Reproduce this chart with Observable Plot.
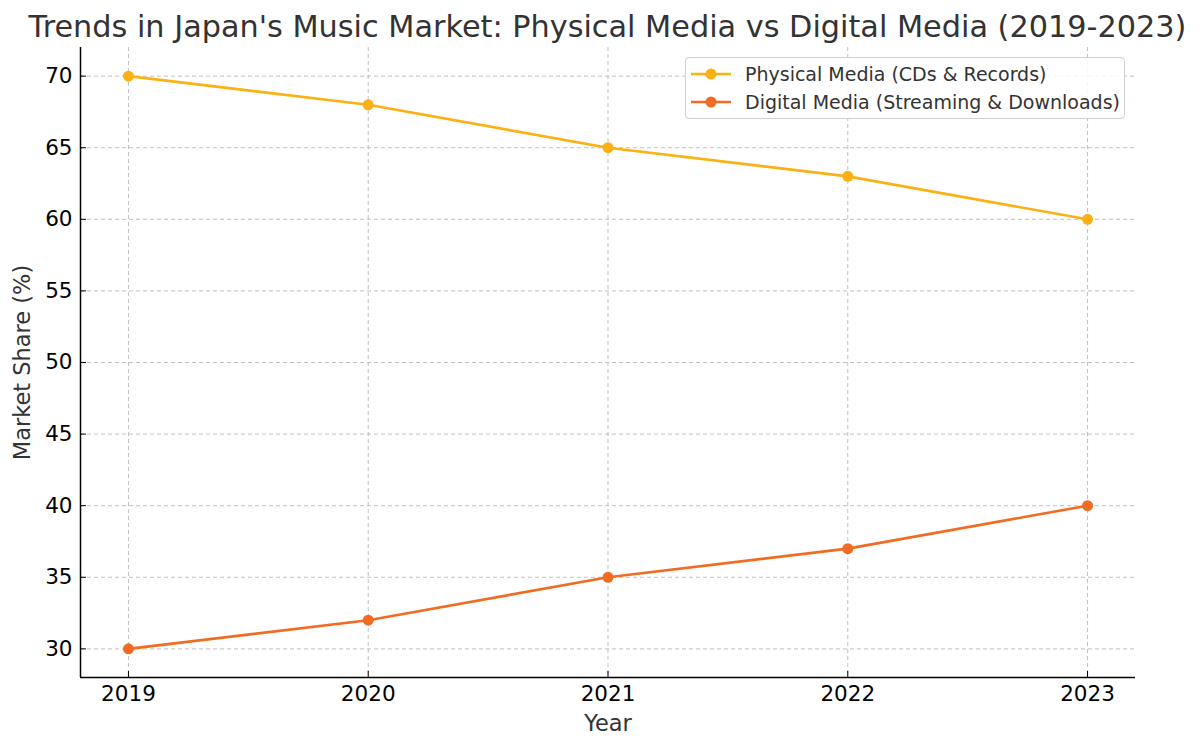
<!DOCTYPE html>
<html>
<head>
<meta charset="utf-8">
<script src="https://cdn.jsdelivr.net/npm/d3@7"></script>
<script src="https://cdn.jsdelivr.net/npm/@observablehq/plot@0.6"></script>
<style>
  body { margin: 0; background: #fff; font-family: "DejaVu Sans", sans-serif; overflow: hidden; }
  #wrap { position: relative; width: 1200px; height: 750px; overflow: hidden; }
  #title { width: 1215px; height: 42px; padding-top: 5px; line-height: 44px; text-align: center; font-size: 30.3px; color: #333; white-space: nowrap; overflow: visible; }
  #legend { position: absolute; left: 685px; top: 57px; width: 440px; height: 62px; background: rgba(255,255,255,0.85); border: 1px solid #d0d0d0; border-radius: 4px; box-sizing: border-box; }
  .item { position: absolute; left: 0; height: 28px; display: flex; align-items: center; font-size: 19px; color: #333; white-space: nowrap; }
  .item svg { margin-left: 5px; margin-right: 14px; }
</style>
</head>
<body>
<div id="wrap">
  <div id="title">Trends in Japan's Music Market: Physical Media vs Digital Media (2019-2023)</div>
  <div id="chart"></div>
  <div id="legend"></div>
</div>
<script>
const years = [2019, 2020, 2021, 2022, 2023];
const physical = [70, 68, 65, 63, 60];
const digital = [30, 32, 35, 37, 40];
const seriesNames = ["Physical Media (CDs & Records)", "Digital Media (Streaming & Downloads)"];
const seriesColors = ["#FBB013", "#F26B22"];
const yTicks = [30, 35, 40, 45, 50, 55, 60, 65, 70];

const rows = [];
years.forEach((yr, i) => {
  rows.push({year: yr, value: physical[i], series: seriesNames[0]});
  rows.push({year: yr, value: digital[i], series: seriesNames[1]});
});

const chart = Plot.plot({
  width: 1200,
  height: 703,
  marginTop: 0,
  marginBottom: 73,
  marginLeft: 80,
  marginRight: 65,
  style: {fontFamily: "DejaVu Sans, sans-serif", fontSize: "21px", color: "#000", background: "#fff", overflow: "visible"},
  x: {domain: [2018.8, 2023.2], ticks: years, tickFormat: d => String(d), label: null},
  y: {domain: [28, 72], ticks: yTicks, label: null},
  color: {domain: seriesNames, range: seriesColors},
  marks: [
    Plot.gridX(years, {stroke: "#b0b0b0", strokeOpacity: 0.8, strokeDasharray: "4,3", strokeWidth: 1}),
    Plot.gridY(yTicks, {stroke: "#b0b0b0", strokeOpacity: 0.8, strokeDasharray: "4,3", strokeWidth: 1}),
    Plot.axisX(years, {tickSize: -6, tickPadding: 14, fontSize: 21.5, tickFormat: d => String(d), stroke: "#000", fill: "#000"}),
    Plot.axisY(yTicks, {tickSize: -6, tickPadding: 14, fontSize: 21.5, stroke: "#000", fill: "#000"}),
    Plot.ruleX([2018.8], {stroke: "#000", strokeWidth: 1.5}),
    Plot.ruleY([28], {stroke: "#000", strokeWidth: 1.5}),
    Plot.line(rows, {x: "year", y: "value", z: "series", stroke: "series", strokeWidth: 2.6}),
    Plot.dot(rows, {x: "year", y: "value", fill: "series", r: 5.5}),
    Plot.text(["Year"], {frameAnchor: "bottom", lineAnchor: "middle", dy: 46, fontSize: 22.5, fill: "#333"}),
    Plot.text(["Market Share (%)"], {frameAnchor: "left", textAnchor: "middle", lineAnchor: "middle", rotate: -90, dx: -58, fontSize: 22.5, fill: "#333"})
  ]
});
document.getElementById("chart").appendChild(chart);

const legend = document.getElementById("legend");
seriesNames.forEach((name, i) => {
  const it = document.createElement("div");
  it.className = "item";
  it.style.top = (2 + i * 28) + "px";
  it.innerHTML = `<svg width="40" height="14"><line x1="0" y1="7" x2="40" y2="7" stroke="${seriesColors[i]}" stroke-width="2.6"/><circle cx="20" cy="7" r="5.5" fill="${seriesColors[i]}"/></svg>`;
  const sp = document.createElement("span");
  sp.textContent = name;
  it.appendChild(sp);
  legend.appendChild(it);
});
</script>
</body>
</html>
